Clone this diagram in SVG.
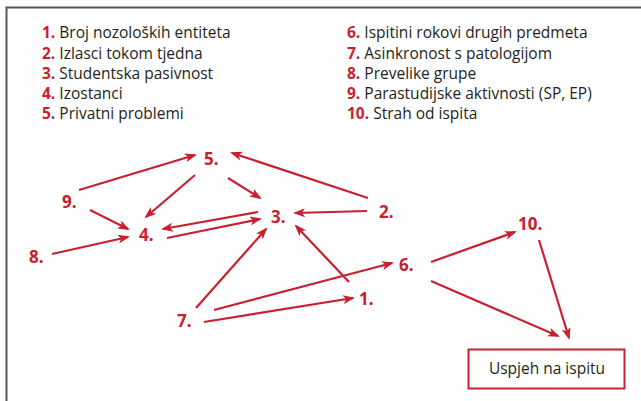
<svg xmlns="http://www.w3.org/2000/svg" width="641" height="401" viewBox="0 0 641 401">
<defs>
<style>
.lg{font-family:"Open Sans","Liberation Sans",sans-serif;font-size:15.5px;fill:#231f20}
.ln{font-weight:bold;fill:#c8202f}
.nd{font-family:"Open Sans","Liberation Sans",sans-serif;font-size:17px;font-weight:bold;fill:#c8202f}
.e{stroke:#c8202f;stroke-width:2.2;fill:none;marker-end:url(#ah)}
</style>
<marker id="ah" markerUnits="userSpaceOnUse" markerWidth="14" markerHeight="10" refX="10" refY="4.5" orient="auto">
<path d="M0,0 L12,4.5 L0,9 L3,4.5 z" fill="#c8202f"/>
</marker>
</defs>
<rect width="641" height="401" fill="#fff"/>
<path d="M6.5,401 V7.5 H641" fill="none" stroke="#555" stroke-width="2"/>
<g id="legend" class="lg">
<text x="42" y="38"><tspan class="ln">1.</tspan> Broj nozoloških entiteta</text>
<text x="42" y="58.5"><tspan class="ln">2.</tspan> Izlasci tokom tjedna</text>
<text x="42" y="78.5"><tspan class="ln">3.</tspan> Studentska pasivnost</text>
<text x="42" y="99"><tspan class="ln">4.</tspan> Izostanci</text>
<text x="42" y="119"><tspan class="ln">5.</tspan> Privatni problemi</text>
<text x="347" y="38"><tspan class="ln">6.</tspan> Ispitini rokovi drugih predmeta</text>
<text x="347" y="58.5"><tspan class="ln">7.</tspan> Asinkronost s patologijom</text>
<text x="347" y="78.5"><tspan class="ln">8.</tspan> Prevelike grupe</text>
<text x="347" y="99"><tspan class="ln">9.</tspan> Parastudijske aktivnosti (SP, EP)</text>
<text x="347" y="119"><tspan class="ln">10.</tspan> Strah od ispita</text>
</g>
<g id="connectors">
<line class="e" x1="79" y1="190" x2="195" y2="155"/>
<line class="e" x1="195" y1="175" x2="146" y2="217"/>
<line class="e" x1="228" y1="178" x2="260" y2="198"/>
<line class="e" x1="368" y1="198" x2="232" y2="153"/>
<line class="e" x1="90" y1="210" x2="128" y2="229"/>
<line class="e" x1="258" y1="212" x2="163" y2="229"/>
<line class="e" x1="167" y1="238" x2="260" y2="219"/>
<line class="e" x1="52" y1="254" x2="128" y2="237"/>
<line class="e" x1="367" y1="211" x2="295" y2="213"/>
<line class="e" x1="349" y1="282" x2="296" y2="226"/>
<line class="e" x1="196" y1="308" x2="266" y2="229"/>
<line class="e" x1="214" y1="310" x2="392" y2="263"/>
<line class="e" x1="204" y1="322" x2="353" y2="298"/>
<line class="e" x1="431" y1="262" x2="515" y2="232"/>
<line class="e" x1="431" y1="281" x2="558" y2="336"/>
<line class="e" x1="539" y1="240" x2="569" y2="338"/>
</g>
<g id="n1"><text class="nd" x="359" y="305">1.</text></g>
<g id="n2"><text class="nd" x="379" y="218">2.</text></g>
<g id="n3"><text class="nd" x="271" y="223">3.</text></g>
<g id="n4"><text class="nd" x="139" y="241">4.</text></g>
<g id="n5"><text class="nd" x="204" y="165">5.</text></g>
<g id="n6"><text class="nd" x="399" y="271">6.</text></g>
<g id="n7"><text class="nd" x="177" y="327">7.</text></g>
<g id="n8"><text class="nd" x="29" y="263">8.</text></g>
<g id="n9"><text class="nd" x="62" y="208">9.</text></g>
<g id="n10"><text class="nd" x="518" y="230">10.</text></g>
<g id="result">
<rect x="468.5" y="349.5" width="156" height="39" fill="#fff" stroke="#c8202f" stroke-width="2"/>
<text class="lg" x="547" y="373.5" text-anchor="middle">Uspjeh na ispitu</text>
</g>
</svg>
